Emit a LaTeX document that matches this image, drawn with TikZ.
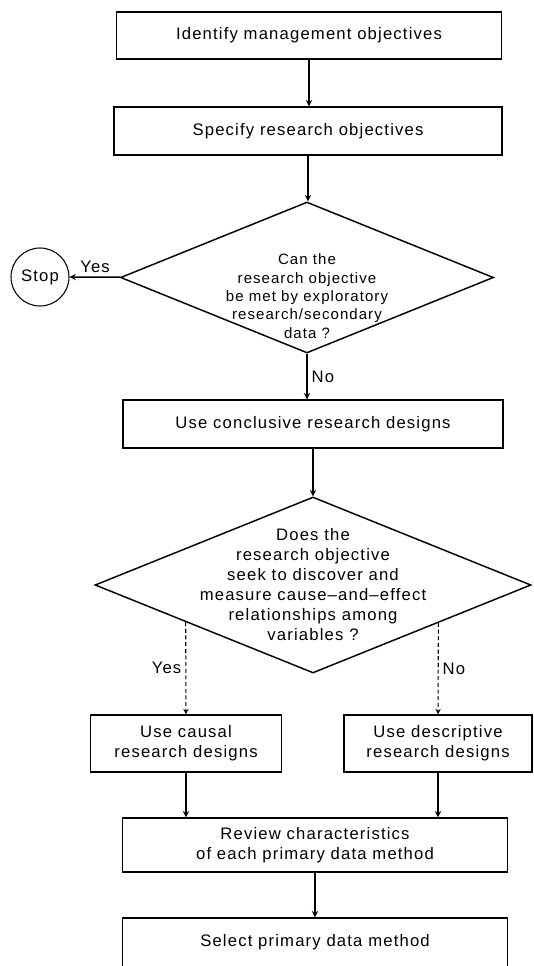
\documentclass[tikz,border=0pt]{standalone}
\usepackage{fontspec}
\setmainfont{Liberation Sans}[LetterSpace=7]
\usetikzlibrary{shapes.geometric,calc}

\begin{document}
\begin{tikzpicture}[x=0.75pt,y=-0.75pt,>=stealth,
    font=\fontsize{12.5}{15}\selectfont]
  \useasboundingbox (0,0) rectangle (533,966);

        \begin{scope}[every node/.style={draw, line width=1.1pt, align=center, inner sep=0pt, minimum height=36pt}]
          \node[minimum width=288.75pt, minimum height=35.25pt] (1) at (309,35.5) {Identify management objectives};
          \node[minimum width=291pt] (2) at (308,131) {Specify research objectives};
          \node[diamond, minimum width=279.75pt, minimum height=113.25pt] (3) at (307,277.5) {};
          \node[circle, minimum size=43.5pt, line width=0.8pt] (4) at (40,277) {Stop};
          \node[minimum width=285pt] (5) at (313,424) {Use conclusive research designs};
          \node[diamond, minimum width=327pt, minimum height=132pt] (6) at (313,585) {};
          \node[minimum width=143.25pt, minimum height=42.75pt] (7) at (186,743.5) {Use causal\\research designs};
          \node[minimum width=141pt, minimum height=42.75pt] (8) at (438,743.5) {Use descriptive\\research designs};
          \node[minimum width=288.75pt, minimum height=40.5pt] (9) at (315,845) {Review characteristics\\of each primary data method};
          \node[minimum width=288.75pt, minimum height=52.5pt, text depth=19pt] (10) at (315,953) {Select primary data method};
        \end{scope}

        % questions inside the diamonds
        \node[align=center, font=\fontsize{11.25}{13.75}\selectfont] (3t) at (307,296)
          {Can the\\research objective\\be met by exploratory\\research/secondary\\data ?};
        \node[align=center] (6t) at (313,585)
          {Does the\\research objective\\seek to discover and\\measure cause--and--effect\\relationships among\\variables ?};

        \coordinate (y) at ($(6.south)!.582!(6.west)$);
        \coordinate (n) at ($(6.south)!.573!(6.east)$);

        \begin{scope}[every node/.style={inner sep=3pt}]
          \begin{scope}[every edge/.style={draw, ->, line width=1.1pt}]
            \path (1) edge (1 |- 2.north);
            \path (2) edge (2 |- 3.north);
            \path (3) edge node[above] {Yes} (4);
            \path (3) edge node[right] {No} (3 |- 5.north);
            \path (5) edge (6);
            \path (7) edge (7 |- 9.north);
            \path (8) edge (8 |- 9.north);
            \path (9) edge (10);
          \end{scope}
          \begin{scope}[every edge/.style={draw, ->, line width=0.8pt, densely dashed}]
            \path (y) edge node[left] {Yes} (7);
            \path (n) edge node[right] {No} (8);
          \end{scope}
        \end{scope}

\end{tikzpicture}
\end{document}
